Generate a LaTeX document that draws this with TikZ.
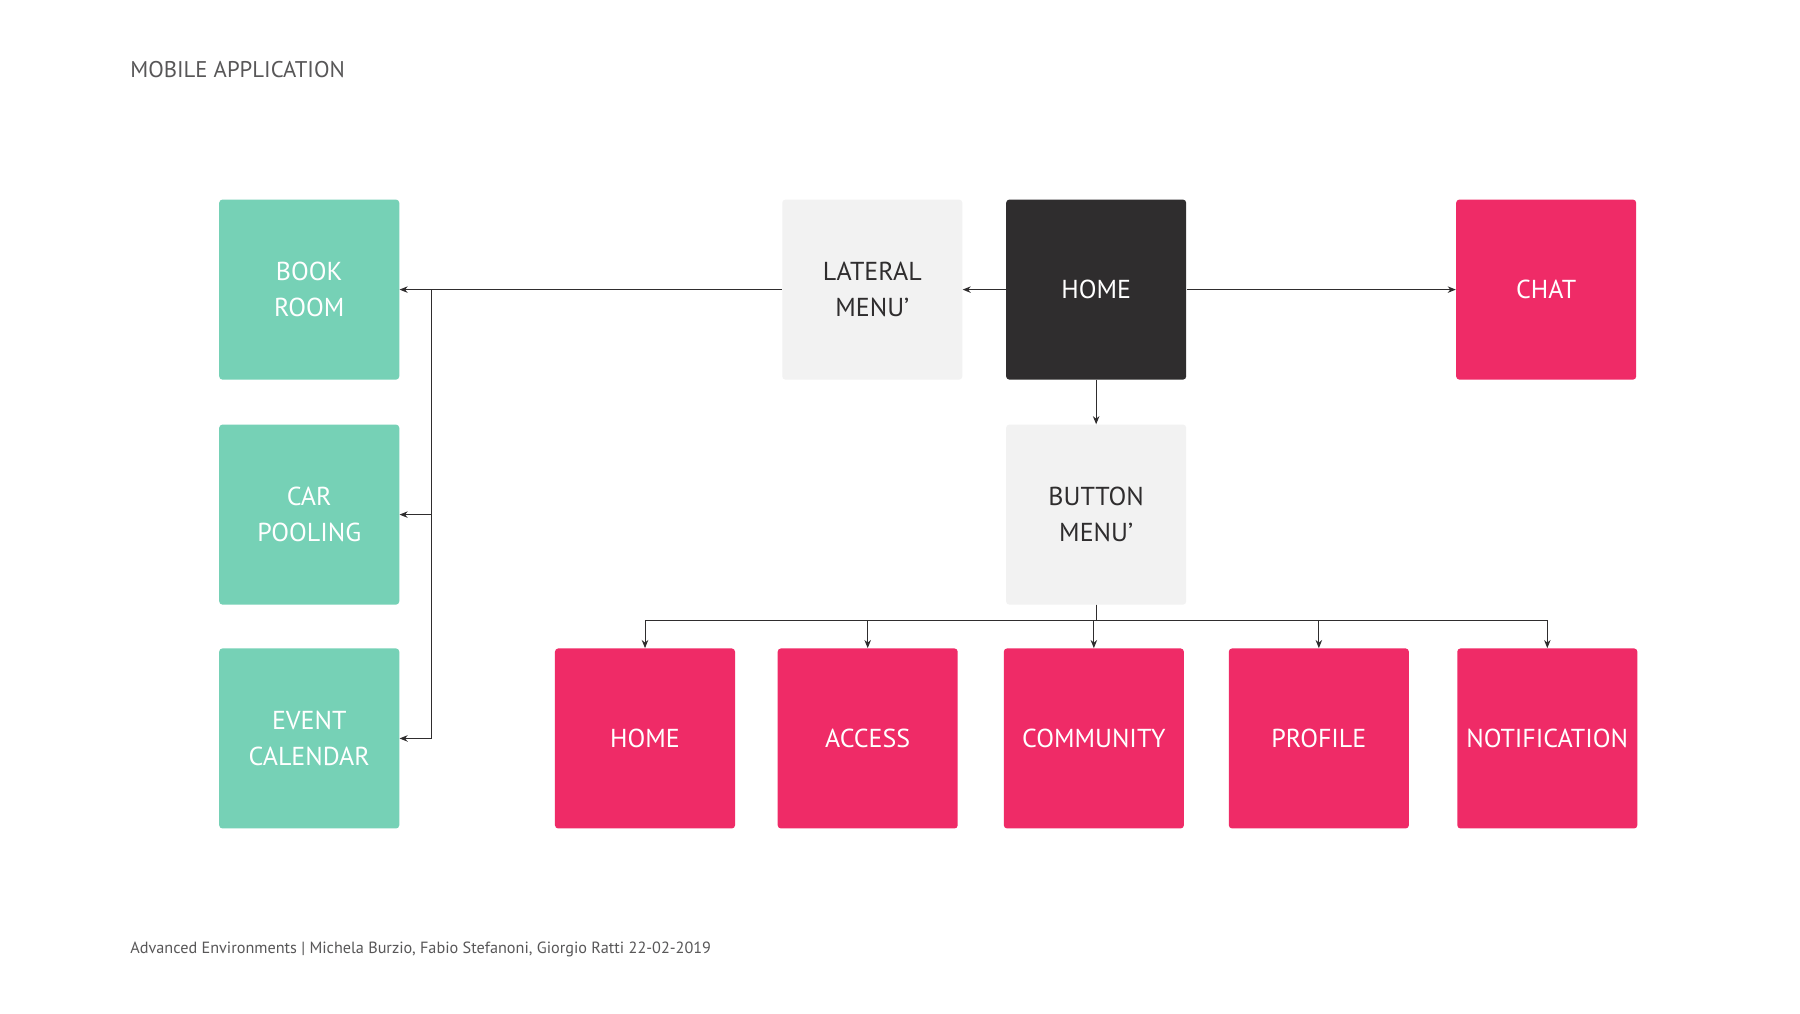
\documentclass[tikz,border=0pt]{standalone}
\usepackage{fontspec}
\setmainfont{PT Sans}
\usetikzlibrary{arrows.meta}
\definecolor{mint}{HTML}{76D1B6}
\definecolor{rose}{HTML}{EF2B67}
\definecolor{pale}{HTML}{F2F2F2}
\definecolor{coal}{HTML}{2F2D2E}
\begin{document}
\begin{tikzpicture}[x=0.025cm,y=-0.025cm,
    box/.style={rectangle,rounded corners=2pt,minimum size=3.9cm,inner sep=0pt,
      align=center,font=\fontsize{16}{22}\selectfont,text=white},
    link/.style={draw=coal,line width=0.6pt,-{Stealth[length=5pt,width=4pt]}}]
    \useasboundingbox[fill=white] (0,0) rectangle (1560,878);

    % Title and footer
    \node[anchor=west,text=coal!80,font=\fontsize{14}{16}\selectfont] (title) at (108,60) {MOBILE APPLICATION};
    \node[anchor=west,text=coal!80,font=\fontsize{10}{12}\selectfont] (foot) at (108,823)
      {Advanced Environments | Michela Burzio, Fabio Stefanoni, Giorgio Ratti 22-02-2019};

    % Left column
    \node[box,fill=mint] (book) at (268,251) {BOOK\\ROOM};
    \node[box,fill=mint] (car) at (268,446) {CAR\\POOLING};
    \node[box,fill=mint] (event) at (268,640) {EVENT\\CALENDAR};

    % Top row
    \node[box,fill=pale,text=coal] (lateral) at (756,251) {LATERAL\\MENU’};
    \node[box,fill=coal] (home) at (950,251) {HOME};
    \node[box,fill=rose] (chat) at (1340,251) {CHAT};
    \node[box,fill=pale,text=coal] (button) at (950,446) {BUTTON\\MENU’};

    % Bottom row
    \foreach \n/\x/\t in {bhome/559/HOME,access/752/ACCESS,community/948/COMMUNITY,
        profile/1143/PROFILE,notif/1341/NOTIFICATION}
      \node[box,fill=rose] (\n) at (\x,640) {\t};

    \coordinate (lbus) at (374,251);
    \coordinate (bbus) at (950,538);

    \draw[link] (home) -- (lateral);
    \draw[link] (home) -- (chat);
    \draw[link] (home) -- (button);
    \draw[link] (lateral) -- (book);
    \draw[link] (lbus) |- (car);
    \draw[link] (lbus) |- (event);
    \foreach \n in {bhome,access,community,profile,notif}
      \draw[link] (button.south) -- (bbus) -| (\n.north);
\end{tikzpicture}
\end{document}
